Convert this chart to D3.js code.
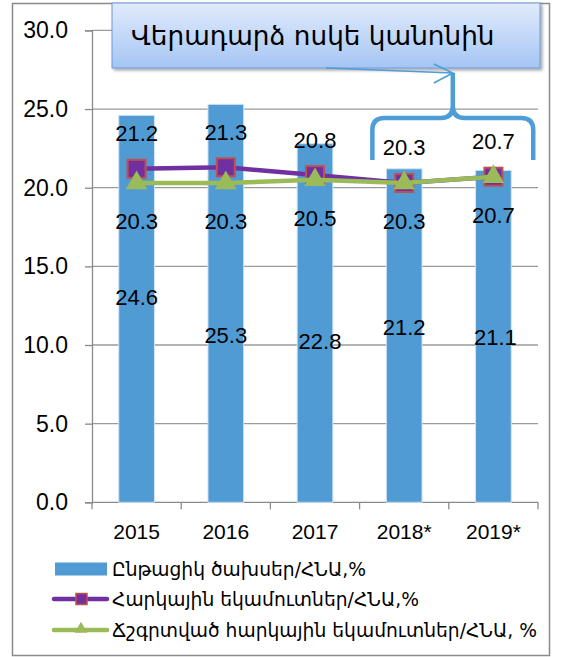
<!DOCTYPE html>
<html>
<head>
<meta charset="utf-8">
<script src="https://cdn.jsdelivr.net/npm/d3@7"></script>
<style>
  html, body { margin: 0; padding: 0; background: #fff; }
  #chart { width: 565px; height: 657px; }
  text { fill: #000; }
</style>
</head>
<body>
<div id="chart"></div>
<script>

// data
const categories = ["2015", "2016", "2017", "2018*", "2019*"];
const spending = [24.6, 25.3, 22.8, 21.2, 21.1];
const taxRevenue = [21.2, 21.3, 20.8, 20.3, 20.7];
const adjustedTax = [20.3, 20.3, 20.5, 20.3, 20.7];
const yTicks = [0, 5, 10, 15, 20, 25, 30];
const seriesNames = [
    "Ընթացիկ ծախսեր/ՀՆԱ,%",
    "Հարկային եկամուտներ/ՀՆԱ,%",
    "Ճշգրտված հարկային եկամուտներ/ՀՆԱ, %"
];
const calloutText = "Վերադարձ ոսկե կանոնին";

// where the bar value labels sit (in axis units) - they are not at the bar tops
const barLabelAt = [13.0, 10.6, 10.2, 11.1, 10.5];
const barLabelDx = [0, 0, 5, 0, 2];

// layout
const width = 565, height = 657;
const plot = { left: 92, right: 538, top: 30.4, bottom: 502.3 };
const numFont = "'Liberation Sans', Arial, sans-serif";
const armFont = "'DejaVu Sans', sans-serif";
const barColor = "#519bd4";
const purple = "#7030a0";
const green = "#9bbb59";
const calloutBlue = "#4e9dd6";

const svg = d3.select("#chart")
    .append("svg")
    .attr("width", width)
    .attr("height", height);

const defs = svg.append("defs");
const grad = defs.append("linearGradient")
    .attr("id", "boxGrad")
    .attr("x1", 0).attr("y1", 0).attr("x2", 0).attr("y2", 1);
grad.append("stop").attr("offset", "0%").attr("stop-color", "#e1ebfc");
grad.append("stop").attr("offset", "100%").attr("stop-color", "#a5c5f4");

const shadow = defs.append("filter").attr("id", "shadow")
    .attr("x", "-5%").attr("y", "-10%").attr("width", "115%").attr("height", "130%");
shadow.append("feDropShadow")
    .attr("dx", 2).attr("dy", 2).attr("stdDeviation", 1.5)
    .attr("flood-color", "#000").attr("flood-opacity", 0.35);

// outer frame
svg.append("rect")
    .attr("x", 12.5).attr("y", 3.5)
    .attr("width", 537).attr("height", 652)
    .attr("fill", "none")
    .attr("stroke", "#8a8a8a")
    .attr("stroke-width", 1.5);

// scales
const x = d3.scaleBand()
    .domain(categories)
    .range([plot.left, plot.right])
    .paddingInner(0.6)
    .paddingOuter(0.3);

const y = d3.scaleLinear()
    .domain([0, 30])
    .range([plot.bottom, plot.top]);

const cx = (d, i) => x(categories[i]) + x.bandwidth() / 2;

// gridlines
svg.append("g")
    .selectAll("line")
    .data(yTicks.filter(d => d > 0))
    .enter().append("line")
    .attr("x1", plot.left).attr("x2", plot.right)
    .attr("y1", d => y(d)).attr("y2", d => y(d))
    .attr("stroke", "#9a9a9a")
    .attr("stroke-width", 1.3);

// y axis
const yAxis = svg.append("g")
    .attr("transform", `translate(${plot.left},0)`)
    .call(d3.axisLeft(y).tickValues(yTicks).tickFormat(d3.format(".1f")).tickSize(7).tickPadding(17));
yAxis.select(".domain").attr("stroke", "#8a8a8a").attr("stroke-width", 1.3);
yAxis.selectAll(".tick line").attr("stroke", "#8a8a8a").attr("stroke-width", 1.3);
yAxis.selectAll(".tick text")
    .attr("font-family", numFont)
    .attr("font-size", 23)
    .attr("fill", "#000");

// x axis baseline and category ticks
const step = x.step();
const xStart = x.range()[0];
svg.append("line")
    .attr("x1", plot.left).attr("x2", plot.right)
    .attr("y1", y(0)).attr("y2", y(0))
    .attr("stroke", "#8a8a8a").attr("stroke-width", 1.3);

svg.append("g")
    .selectAll("line")
    .data(d3.range(categories.length + 1))
    .enter().append("line")
    .attr("x1", i => xStart + i * step).attr("x2", i => xStart + i * step)
    .attr("y1", y(0)).attr("y2", y(0) + 7)
    .attr("stroke", "#8a8a8a").attr("stroke-width", 1.3);

svg.append("g")
    .selectAll("text")
    .data(categories)
    .enter().append("text")
    .attr("x", (d, i) => cx(d, i))
    .attr("y", 531)
    .attr("text-anchor", "middle")
    .attr("dominant-baseline", "central")
    .attr("font-family", numFont)
    .attr("font-size", 21)
    .text(d => d);

// bars
svg.append("g")
    .selectAll("rect")
    .data(spending)
    .enter().append("rect")
    .attr("x", (d, i) => x(categories[i]))
    .attr("y", d => y(d))
    .attr("width", x.bandwidth())
    .attr("height", d => y(0) - y(d))
    .attr("fill", barColor)
    .attr("stroke", "#cfe3f4")
    .attr("stroke-width", 1);

// lines
const line = d3.line()
    .x((d, i) => cx(d, i))
    .y(d => y(d));

svg.append("path")
    .datum(taxRevenue)
    .attr("d", line)
    .attr("fill", "none")
    .attr("stroke", purple)
    .attr("stroke-width", 4.5)
    .attr("stroke-linejoin", "round");

svg.append("g")
    .selectAll("rect")
    .data(taxRevenue)
    .enter().append("rect")
    .attr("x", (d, i) => cx(d, i) - 9)
    .attr("y", d => y(d) - 9)
    .attr("width", 18).attr("height", 18)
    .attr("fill", purple)
    .attr("stroke", "#c0504d")
    .attr("stroke-width", 2);

svg.append("path")
    .datum(adjustedTax)
    .attr("d", line)
    .attr("fill", "none")
    .attr("stroke", green)
    .attr("stroke-width", 4.5)
    .attr("stroke-linejoin", "round");

const tri = d3.symbol().type(d3.symbolTriangle).size(200);
svg.append("g")
    .selectAll("path")
    .data(adjustedTax)
    .enter().append("path")
    .attr("d", tri)
    .attr("transform", (d, i) => `translate(${cx(d, i)},${y(d)})`)
    .attr("fill", green);

// data labels
const labels = svg.append("g")
    .attr("font-family", numFont)
    .attr("font-size", 22)
    .attr("text-anchor", "middle")
    .attr("dominant-baseline", "central");

labels.selectAll(".lbl-tax")
    .data(taxRevenue)
    .enter().append("text")
    .attr("class", "lbl-tax")
    .attr("x", (d, i) => cx(d, i))
    .attr("y", d => y(d) - 35)
    .text(d => d.toFixed(1));

labels.selectAll(".lbl-adj")
    .data(adjustedTax)
    .enter().append("text")
    .attr("class", "lbl-adj")
    .attr("x", (d, i) => cx(d, i))
    .attr("y", d => y(d) + 39)
    .text(d => d.toFixed(1));

labels.selectAll(".lbl-bar")
    .data(spending)
    .enter().append("text")
    .attr("class", "lbl-bar")
    .attr("x", (d, i) => cx(d, i) + barLabelDx[i])
    .attr("y", (d, i) => y(barLabelAt[i]))
    .text(d => d.toFixed(1));

// callout: brace over the last two years, arrow and text box
const braceL = x(categories[3]) - 14;
const braceR = x(categories[4]) + x.bandwidth() + 22;
const braceMid = xStart + 4 * step + 4;
const braceTop = 73, braceBar = 118, braceBottom = 160;
svg.append("path")
    .attr("d",
        `M${braceL},${braceBottom} L${braceL},${braceBar + 12} Q${braceL},${braceBar} ${braceL + 12},${braceBar}` +
        ` L${braceMid - 12},${braceBar} Q${braceMid},${braceBar} ${braceMid},${braceBar - 12} L${braceMid},${braceTop}` +
        ` M${braceMid},${braceBar - 12} Q${braceMid},${braceBar} ${braceMid + 12},${braceBar}` +
        ` L${braceR - 12},${braceBar} Q${braceR},${braceBar} ${braceR},${braceBar + 12} L${braceR},${braceBottom}`)
    .attr("fill", "none")
    .attr("stroke", calloutBlue)
    .attr("stroke-width", 4.5)
    .attr("stroke-linejoin", "round");

svg.append("rect")
    .attr("x", 112).attr("y", 3)
    .attr("width", 428).attr("height", 65)
    .attr("fill", "url(#boxGrad)")
    .attr("stroke", "#6c98d8")
    .attr("stroke-width", 1)
    .attr("filter", "url(#shadow)");

svg.append("text")
    .attr("x", 131)
    .attr("y", 36)
    .attr("dominant-baseline", "central")
    .attr("font-family", armFont)
    .attr("font-size", 26.3)
    .text(calloutText);

svg.append("path")
    .attr("d", `M326,68 L${braceMid},${braceTop} M${braceMid - 19},64 L${braceMid},${braceTop} L${braceMid - 19},83`)
    .attr("fill", "none")
    .attr("stroke", calloutBlue)
    .attr("stroke-width", 1.6);

// legend
const legend = svg.append("g");
const legendY = [569, 599, 630];

legend.append("rect")
    .attr("x", 55).attr("y", legendY[0] - 6.5)
    .attr("width", 52).attr("height", 13)
    .attr("fill", barColor);

legend.append("line")
    .attr("x1", 54).attr("x2", 107)
    .attr("y1", legendY[1]).attr("y2", legendY[1])
    .attr("stroke", purple).attr("stroke-width", 4.5).attr("stroke-linecap", "round");
legend.append("rect")
    .attr("x", 76).attr("y", legendY[1] - 5.5)
    .attr("width", 11).attr("height", 11)
    .attr("fill", purple).attr("stroke", "#c0504d").attr("stroke-width", 1.5);

legend.append("line")
    .attr("x1", 54).attr("x2", 107)
    .attr("y1", legendY[2]).attr("y2", legendY[2])
    .attr("stroke", green).attr("stroke-width", 4.5).attr("stroke-linecap", "round");
legend.append("path")
    .attr("d", d3.symbol().type(d3.symbolTriangle).size(70))
    .attr("transform", `translate(81,${legendY[2] - 1})`)
    .attr("fill", green);

legend.selectAll("text")
    .data(seriesNames)
    .enter().append("text")
    .attr("x", 112)
    .attr("y", (d, i) => legendY[i])
    .attr("dominant-baseline", "central")
    .attr("font-family", armFont)
    .attr("font-size", 18.7)
    .text(d => d);

</script>
</body>
</html>
